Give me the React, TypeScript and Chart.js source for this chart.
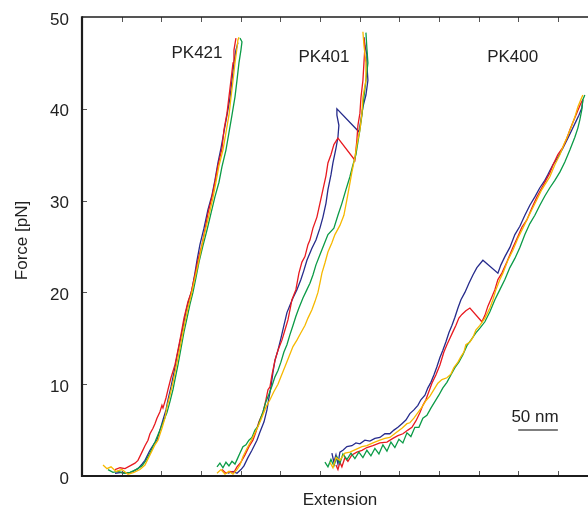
import { useEffect, useRef } from 'react';
import { Chart, registerables } from 'chart.js';
Chart.register(...registerables);

// Extension [nm], Force [pN]
const pk421Red = [[41.6,0.7],[47.9,0.9],[54.2,0.8],[60.5,1.1],[66.8,1.4],[70.6,1.7],[75.6,2.6],[79.4,3.3],[83.2,3.9],[85.7,4.6],[89.5,5.2],[92.0,5.7],[94.5,6.3],[98.3,7.0],[100.8,7.7],[102.1,7.4],[105.9,8.5],[108.4,9.4],[112.2,10.7],[117.2,12.1],[121.0,13.7],[124.8,15.4],[128.6,17.2],[133.6,19.0],[137.4,19.9],[142.4,21.9],[146.2,23.5],[151.3,25.2],[155.0,26.8],[158.8,28.6],[163.9,30.4],[167.6,32.0],[171.4,33.8],[176.5,35.7],[179.0,37.7],[182.8,39.5],[185.3,41.3],[187.8,43.1],[190.4,45.0],[191.6,46.4],[194.1,47.7]];
const pk421Blue = [[41.6,0.3],[50.4,0.4],[58.0,0.3],[64.3,0.5],[70.6,0.8],[75.6,1.3],[79.4,1.7],[85.7,2.8],[90.8,3.5],[94.5,3.9],[98.3,5.0],[102.1,6.1],[105.9,7.2],[108.4,8.3],[112.2,9.7],[116.0,11.3],[119.7,13.0],[123.5,14.6],[127.3,16.2],[131.1,17.9],[134.9,19.2],[138.7,20.3],[142.4,22.1],[145.0,23.5],[148.7,25.2],[153.8,27.0],[158.8,29.0],[163.9,30.6],[167.6,32.2],[171.4,34.1],[175.2,35.7],[179.0,37.5],[182.8,39.3],[186.6,41.2],[189.1,43.1],[191.6,45.0],[194.1,46.4],[196.6,47.2]];
const pk421Yellow = [[26.5,1.2],[31.5,0.8],[36.6,1.0],[42.9,0.5],[50.4,0.7],[58.0,0.2],[65.5,0.4],[73.1,0.7],[79.4,1.2],[85.7,2.3],[92.0,3.4],[95.8,3.9],[100.8,5.2],[104.6,6.3],[107.1,7.5],[110.9,8.8],[114.7,10.2],[118.5,11.8],[122.3,13.4],[126.1,15.1],[129.8,16.8],[133.6,18.3],[137.4,19.6],[141.2,21.1],[146.2,23.0],[150.0,24.6],[155.0,26.6],[160.1,28.4],[165.1,30.3],[168.9,32.0],[172.7,33.8],[177.7,35.5],[181.5,37.4],[185.3,39.3],[187.8,41.2],[190.4,43.1],[192.9,45.0],[195.4,46.6],[196.6,47.5],[197.9,47.8]];
const pk421Green = [[32.8,0.7],[39.1,0.4],[45.4,0.5],[52.9,0.3],[60.5,0.4],[68.1,0.7],[75.6,1.1],[80.7,1.7],[85.7,2.5],[92.0,3.7],[98.3,5.0],[103.4,6.1],[107.1,6.9],[110.9,8.1],[114.7,9.4],[117.2,10.5],[121.0,12.1],[124.8,13.9],[128.6,15.7],[132.4,17.2],[136.1,18.7],[139.9,20.0],[143.7,21.6],[147.5,23.3],[152.5,25.1],[157.6,26.8],[162.6,28.6],[167.6,30.4],[172.7,32.0],[176.5,33.7],[181.5,35.5],[185.3,37.4],[189.1,39.3],[192.9,41.3],[195.4,43.1],[197.9,45.0],[200.4,46.4],[201.7,47.3],[199.2,47.7]];

const pk401Red = [[176.5,0.7],[181.5,0.3],[186.6,0.5],[191.6,0.4],[195.4,1.0],[200.4,1.5],[205.5,2.3],[210.5,3.2],[215.5,3.9],[219.3,4.8],[223.1,5.9],[228.2,6.9],[231.9,8.3],[234.5,9.4],[237.0,9.7],[239.5,11.0],[243.3,12.6],[247.1,13.7],[252.1,14.8],[255.9,15.9],[259.7,17.0],[262.2,18.1],[264.7,19.2],[269.7,20.3],[273.5,22.1],[277.3,23.3],[281.1,23.9],[284.9,25.2],[287.4,25.7],[291.2,27.0],[296.2,28.2],[300.0,29.7],[303.8,31.2],[307.6,32.7],[310.1,34.1],[313.9,35.0],[317.6,36.1],[322.7,36.8],[344.1,34.4],[346.6,36.6],[347.9,38.2],[350.4,39.5],[351.7,41.2],[354.2,43.1],[355.5,45.0],[356.7,46.7],[355.5,47.7]];
const pk401Blue = [[184.0,0.3],[190.4,0.5],[195.4,0.3],[200.4,0.7],[204.2,1.1],[209.2,2.0],[214.3,2.8],[220.6,3.9],[224.4,4.8],[229.5,5.9],[233.2,7.2],[235.7,8.5],[238.2,9.7],[240.8,11.3],[243.3,12.6],[247.1,13.7],[250.8,15.0],[254.6,16.4],[258.4,17.8],[262.2,18.6],[266.0,19.4],[271.0,20.3],[276.0,21.4],[279.8,22.4],[283.6,23.5],[289.9,24.8],[295.0,25.7],[300.0,27.0],[303.8,28.2],[307.6,29.7],[310.1,31.2],[313.9,32.8],[316.4,34.1],[320.2,35.7],[322.7,36.9],[323.9,38.2],[321.4,39.3],[321.4,40.0],[349.1,37.5],[351.7,38.8],[354.2,40.2],[358.0,41.5],[360.5,43.1],[359.2,44.8],[359.2,45.9],[356.7,46.9],[355.5,47.8]];
const pk401Green = [[170.2,1.0],[173.9,1.4],[177.7,0.9],[181.5,1.5],[185.3,1.1],[189.1,1.6],[192.9,1.3],[196.6,2.0],[199.2,2.5],[202.9,3.2],[206.7,3.4],[210.5,3.9],[214.3,4.2],[218.1,5.0],[221.8,5.4],[224.4,6.1],[228.2,7.0],[231.9,8.1],[235.7,8.9],[239.5,9.8],[243.3,10.8],[247.1,11.5],[250.8,12.4],[254.6,13.5],[258.4,14.3],[262.2,15.4],[266.0,16.4],[269.7,17.4],[273.5,18.3],[278.6,19.4],[283.6,20.3],[287.4,21.0],[291.2,21.9],[295.0,23.0],[300.0,24.1],[305.0,25.2],[310.1,26.3],[317.6,27.0],[322.7,28.4],[327.7,29.7],[332.8,31.2],[337.8,32.6],[341.6,33.9],[345.4,35.0],[347.9,36.4],[350.4,37.7],[352.9,39.3],[355.5,41.3],[358.0,43.1],[360.5,45.0],[359.2,46.6],[358.0,48.3]];
const pk401Yellow = [[170.2,0.3],[175.2,0.7],[180.3,0.2],[185.3,0.5],[190.4,0.2],[195.4,0.7],[199.2,1.2],[202.9,2.1],[208.0,3.0],[213.0,3.8],[218.1,4.7],[223.1,5.6],[226.9,6.4],[231.9,7.5],[237.0,8.3],[242.0,9.2],[247.1,10.0],[250.8,10.8],[255.9,11.9],[260.9,13.0],[266.0,14.1],[271.0,14.8],[276.0,15.6],[281.1,16.4],[284.9,17.2],[289.9,18.1],[293.7,19.0],[297.5,20.0],[300.0,21.0],[302.5,22.1],[306.3,23.2],[310.1,24.4],[315.1,25.4],[318.9,26.3],[325.2,27.3],[330.2,28.4],[334.0,30.1],[337.8,31.9],[340.3,33.1],[344.1,34.7],[346.6,36.1],[350.4,37.7],[352.9,39.5],[354.2,41.3],[358.0,43.1],[358.0,45.0],[355.5,46.9],[354.2,48.4]];

const pk400Red = [[320.2,1.2],[322.7,0.7],[325.2,1.5],[327.7,1.0],[331.5,2.0],[335.3,1.6],[340.3,2.3],[346.6,2.6],[353.0,2.8],[359.2,3.1],[366.8,3.3],[375.6,3.6],[384.5,3.7],[392.0,4.1],[398.3,4.4],[404.6,4.6],[410.9,5.0],[416.0,5.3],[421.0,6.0],[426.0,6.9],[429.8,7.7],[433.6,8.3],[437.4,9.2],[441.2,10.1],[446.2,11.0],[451.3,12.1],[456.3,13.5],[460.1,14.3],[463.9,15.0],[467.6,15.7],[471.4,16.4],[475.2,17.2],[479.0,17.6],[484.0,18.0],[489.1,18.3],[504.2,16.8],[508.0,17.5],[511.8,18.5],[516.8,19.5],[520.6,20.3],[524.4,21.4],[529.4,22.1],[535.7,23.3],[543.3,24.9],[549.6,26.1],[554.6,27.1],[560.9,27.9],[567.2,29.2],[573.5,30.4],[579.8,31.4],[584.9,32.2],[589.9,33.0],[594.9,34.1],[600.0,35.0],[606.3,35.8],[611.4,36.8],[615.1,37.7],[618.9,38.5],[622.7,39.3],[626.5,40.1],[629.0,40.6],[631.5,41.0]];
const pk400Blue = [[315.1,2.5],[317.6,1.5],[320.2,2.3],[322.7,1.3],[325.2,2.6],[329.0,2.8],[334.0,3.2],[340.3,3.3],[345.4,3.6],[350.4,3.5],[356.7,3.9],[363.0,3.8],[369.3,4.1],[375.6,4.2],[381.9,4.6],[388.2,4.6],[393.3,5.0],[398.3,5.3],[403.4,5.7],[408.4,6.1],[413.4,6.8],[418.5,7.2],[423.5,7.7],[427.3,8.3],[432.4,8.8],[436.1,9.6],[439.9,10.2],[443.7,11.0],[447.5,11.9],[451.3,12.9],[455.0,13.7],[458.8,14.6],[462.6,15.6],[466.4,16.4],[470.2,17.3],[474.0,18.3],[477.8,19.2],[482.8,20.0],[487.9,21.0],[492.9,21.9],[497.9,22.7],[505.5,23.5],[524.4,22.1],[528.2,23.0],[533.2,23.9],[539.5,24.9],[545.8,26.3],[552.1,27.2],[558.4,28.4],[564.7,29.5],[571.0,30.4],[577.3,31.4],[583.6,32.2],[587.3,32.8],[593.7,33.9],[600.0,34.7],[606.3,35.7],[612.6,36.8],[617.6,37.7],[622.7,38.6],[626.5,39.3],[630.2,40.1],[631.5,41.0]];
const pk400Yellow = [[312.6,1.5],[316.4,0.9],[320.2,2.0],[325.2,1.7],[331.5,2.5],[337.8,2.6],[345.4,2.9],[353.0,3.2],[359.2,3.3],[366.8,3.6],[375.6,3.9],[381.9,4.1],[388.2,4.2],[395.8,4.7],[403.4,5.2],[409.7,5.7],[413.4,5.8],[418.5,6.3],[423.5,6.9],[428.6,7.5],[433.6,8.2],[438.7,8.7],[443.7,9.4],[448.7,10.1],[453.8,10.5],[460.1,10.7],[465.1,11.1],[468.9,11.8],[474.0,12.4],[477.8,13.0],[481.5,13.5],[484.0,14.3],[489.1,14.6],[492.9,15.1],[496.6,15.9],[501.7,16.4],[508.0,17.2],[514.3,18.3],[518.1,19.2],[521.9,20.3],[526.9,21.4],[530.7,22.1],[537.0,23.5],[543.3,24.6],[549.6,25.9],[555.9,27.0],[560.9,27.9],[567.2,29.0],[573.5,30.1],[579.8,31.2],[584.9,31.9],[589.9,32.6],[596.2,33.9],[602.5,35.0],[607.6,36.1],[612.6,37.1],[617.6,38.2],[621.4,39.1],[625.2,40.2],[629.0,41.0],[631.5,41.5]];
const pk400Green = [[306.3,1.5],[310.1,1.0],[313.9,1.8],[317.6,1.1],[321.4,2.1],[325.2,1.4],[329.0,2.4],[334.0,1.8],[339.1,2.5],[344.1,1.9],[349.1,2.6],[354.2,2.0],[359.2,2.8],[364.3,2.2],[369.3,3.0],[374.4,2.4],[379.4,3.4],[384.5,2.7],[389.5,3.7],[394.5,3.1],[399.6,4.0],[404.6,3.6],[409.7,4.7],[414.7,4.3],[419.7,5.3],[424.8,5.3],[429.8,6.3],[434.9,6.6],[439.9,7.4],[444.9,8.1],[449.9,8.8],[455.0,9.6],[460.1,10.2],[465.1,11.0],[470.2,11.8],[475.2,12.4],[480.3,13.2],[485.3,14.2],[490.4,14.8],[496.6,15.6],[501.7,16.1],[508.0,16.8],[514.3,17.9],[520.6,19.2],[526.9,20.3],[533.2,21.4],[539.5,22.7],[545.8,23.7],[552.1,24.9],[558.4,26.3],[564.7,27.5],[571.0,28.4],[577.3,29.5],[583.6,30.5],[589.9,31.4],[596.2,32.2],[602.5,33.1],[608.8,34.2],[615.1,35.5],[621.4,36.9],[625.2,37.9],[627.7,38.8],[630.2,39.9],[631.5,41.0],[634.0,41.5]];

const xTickValues = [50,100,150,200,250,300,350,400,450,500,550,600];
const yTickValues = [10,20,30,40];
const groupLabels = [
  { text: 'PK421', x: 145, y: 45.5 },
  { text: 'PK401', x: 305, y: 45.15 },
  { text: 'PK400', x: 543, y: 45.15 },
];
const scaleBar = { from: 550, to: 600, force: 5.0, text: '50 nm', textForce: 5.9 };

const RED = '#e8191f';
const BLUE = '#262b8c';
const GREEN = '#0b9b47';
const YELLOW = '#f6b800';

const FONT = '17px "Liberation Sans", Arial, Helvetica, sans-serif';

const overlay = {
  id: 'overlay',
  afterDraw(chart: any) {
    const { ctx, chartArea: a, scales } = chart;
    const x = scales.x;
    const y = scales.y;
    ctx.save();
    // ticks (inward)
    ctx.strokeStyle = '#555';
    ctx.lineWidth = 1;
    ctx.beginPath();
    for (const v of xTickValues) {
      const px = Math.round(x.getPixelForValue(v)) + 0.5;
      ctx.moveTo(px, a.bottom);
      ctx.lineTo(px, a.bottom - 5);
      ctx.moveTo(px, a.top);
      ctx.lineTo(px, a.top + 5);
    }
    for (const v of yTickValues) {
      const py = Math.round(y.getPixelForValue(v)) + 0.5;
      ctx.moveTo(a.left, py);
      ctx.lineTo(a.left + 5, py);
    }
    ctx.stroke();
    // frame
    ctx.strokeStyle = '#1c1c1c';
    ctx.lineWidth = 1.5;
    ctx.beginPath();
    ctx.moveTo(a.left, a.top);
    ctx.lineTo(a.right, a.top);
    ctx.stroke();
    ctx.lineWidth = 2.2;
    ctx.beginPath();
    ctx.moveTo(a.left, a.top - 0.75);
    ctx.lineTo(a.left, a.bottom + 1);
    ctx.moveTo(a.left - 1, a.bottom);
    ctx.lineTo(a.right, a.bottom);
    ctx.stroke();
    // scale bar
    ctx.strokeStyle = '#555';
    ctx.lineWidth = 1.5;
    ctx.beginPath();
    const sy = y.getPixelForValue(scaleBar.force);
    ctx.moveTo(x.getPixelForValue(scaleBar.from), sy);
    ctx.lineTo(x.getPixelForValue(scaleBar.to), sy);
    ctx.stroke();
    // texts
    ctx.fillStyle = '#222';
    ctx.font = FONT;
    ctx.textAlign = 'center';
    ctx.textBaseline = 'alphabetic';
    for (const l of groupLabels) {
      ctx.fillText(l.text, x.getPixelForValue(l.x), y.getPixelForValue(l.y));
    }
    ctx.fillText(scaleBar.text, x.getPixelForValue((scaleBar.from + scaleBar.to) / 2) - 3, y.getPixelForValue(scaleBar.textForce));
    ctx.fillText('Extension', (a.left + a.right) / 2 + 5, a.bottom + 29);
    ctx.save();
    ctx.translate(27, (a.top + a.bottom) / 2 - 6);
    ctx.rotate(-Math.PI / 2);
    ctx.fillText('Force [pN]', 0, 0);
    ctx.restore();
    ctx.restore();
  },
};

function ds(data: number[][], color: string) {
  return {
    data,
    borderColor: color,
    backgroundColor: color,
    borderWidth: 1.3,
    pointRadius: 0,
    tension: 0,
    fill: false,
  };
}

export default function App() {
  const ref = useRef<HTMLCanvasElement>(null);
  useEffect(() => {
    document.body.style.margin = '0';
    const canvas = ref.current!;
    const chart = new Chart(canvas, {
      type: 'line',
      data: {
        datasets: [
          ds(pk421Yellow, YELLOW), ds(pk421Green, GREEN), ds(pk421Red, RED), ds(pk421Blue, BLUE),
          ds(pk401Yellow, YELLOW), ds(pk401Green, GREEN), ds(pk401Red, RED), ds(pk401Blue, BLUE),
          ds(pk400Yellow, YELLOW), ds(pk400Green, GREEN), ds(pk400Red, RED), ds(pk400Blue, BLUE),
        ] as any,
      },
      options: {
        animation: false,
        responsive: false,
        devicePixelRatio: 1,
        layout: { padding: { top: 17, right: 0, left: 0, bottom: 0 } },
        plugins: { legend: { display: false }, tooltip: { enabled: false } },
        scales: {
          x: {
            type: 'linear',
            min: 0,
            max: 638,
            ticks: { display: false },
            grid: { display: false, drawTicks: false },
            border: { display: false },
            afterFit: (s: any) => { s.height = 33; s.paddingLeft = 0; s.paddingRight = 0; },
          },
          y: {
            type: 'linear',
            min: 0,
            max: 50,
            ticks: {
              stepSize: 10,
              padding: 13,
              labelOffset: 3,
              color: '#222',
              font: { family: '"Liberation Sans", Arial, Helvetica, sans-serif', size: 17 },
            },
            grid: { display: false, drawTicks: false },
            border: { display: false },
            afterFit: (s: any) => { s.width = 82; s.paddingTop = 0; s.paddingBottom = 0; },
          },
        },
      },
      plugins: [overlay],
    });
    return () => chart.destroy();
  }, []);
  return (
    <div style={{ width: 588, height: 509, background: '#fff' }}>
      <canvas ref={ref} width={588} height={509} style={{ display: 'block', width: 588, height: 509 }} />
    </div>
  );
}
